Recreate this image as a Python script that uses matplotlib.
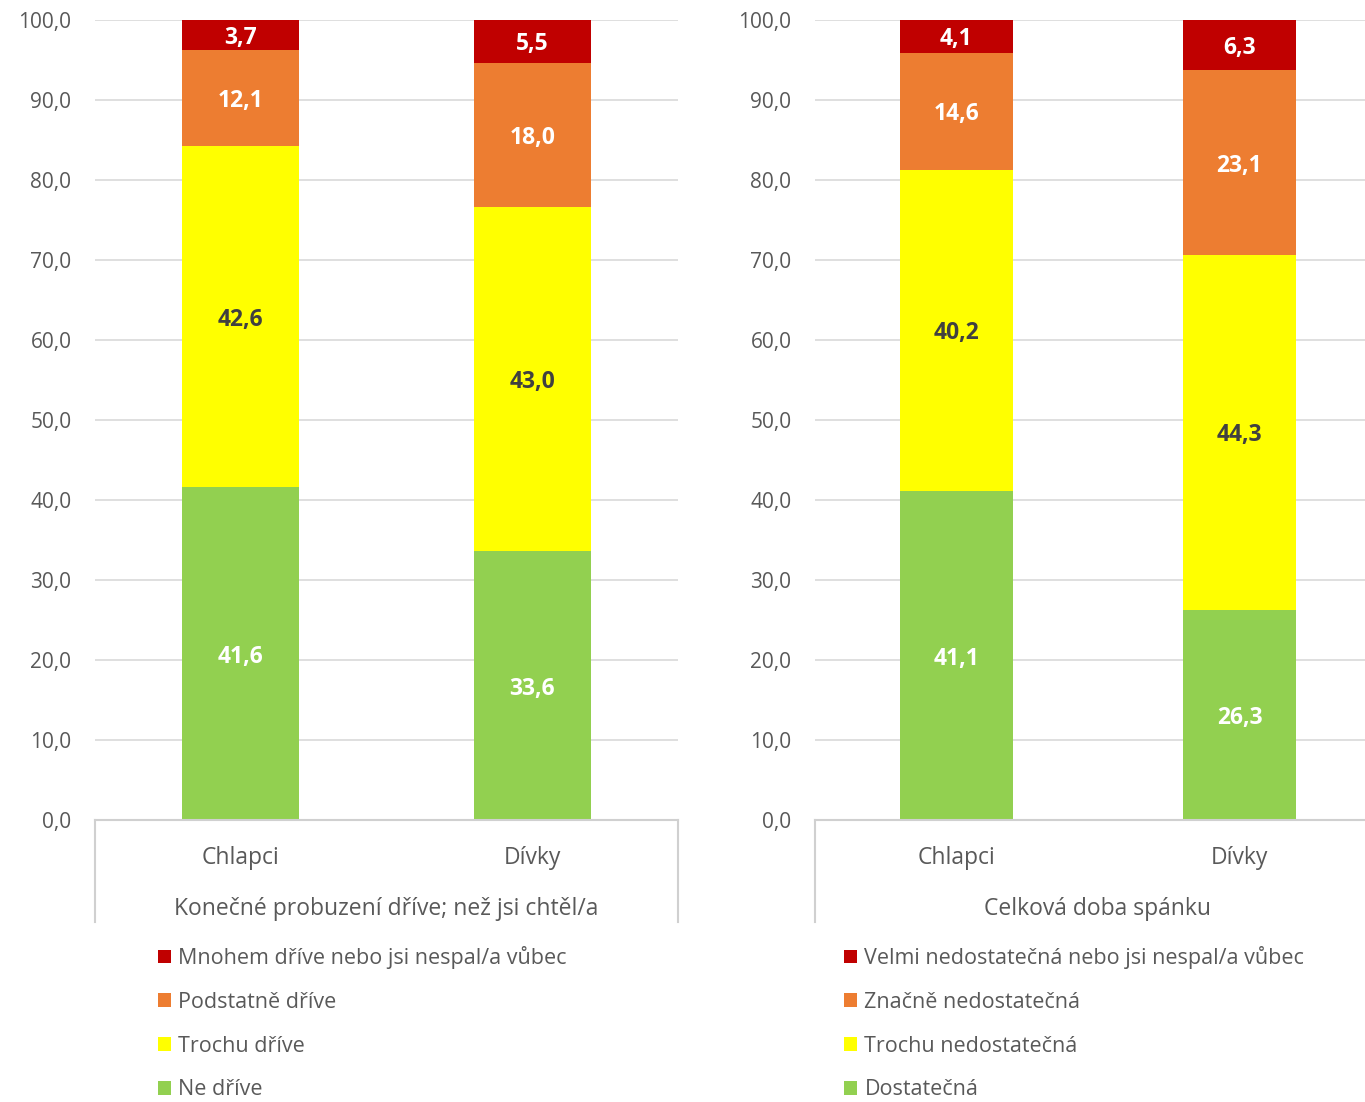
import matplotlib
matplotlib.use("Agg")
import matplotlib.pyplot as plt

plt.rcParams['font.family'] = ['Open Sans', 'DejaVu Sans']

# data
groups = ["Chlapci", "Dívky"]

titles = ["Konečné probuzení dříve; než jsi chtěl/a", "Celková doba spánku"]

labels_left = ["Ne dříve", "Trochu dříve", "Podstatně dříve",
               "Mnohem dříve nebo jsi nespal/a vůbec"]
values_left = [[41.6, 33.6], [42.6, 43.0], [12.1, 18.0], [3.7, 5.5]]

labels_right = ["Dostatečná", "Trochu nedostatečná", "Značně nedostatečná",
                "Velmi nedostatečná nebo jsi nespal/a vůbec"]
values_right = [[41.1, 26.3], [40.2, 44.3], [14.6, 23.1], [4.1, 6.3]]

colors = ["#92D050", "#FFFF00", "#ED7D31", "#C00000"]
text_colors = ["white", "#404040", "white", "white"]
gray = "#595959"

fig = plt.figure(figsize=(13.65, 11.02), dpi=100)
W, H = 1365, 1102

def draw(rect, values, labels, title, legend_xy):
    ax = fig.add_axes(rect)
    x = range(len(groups))
    bottom = [0] * len(groups)
    handles = []
    for vals, c, tc in zip(values, colors, text_colors):
        bars = ax.bar(x, vals, 0.4, bottom=bottom, color=c, zorder=3)
        handles.append(bars)
        for i, v in enumerate(vals):
            ax.text(i, bottom[i] + v / 2, f"{v:.1f}".replace(".", ","),
                    ha="center", va="center_baseline", color=tc, fontsize=16.5,
                    fontweight="bold", zorder=4)
        bottom = [b + v for b, v in zip(bottom, vals)]
    ax.set_xlim(-0.5, 1.5)
    ax.set_ylim(0, 100)
    ax.set_yticks(range(0, 101, 10))
    ax.set_yticklabels([f"{t:.1f}".replace(".", ",") for t in range(0, 101, 10)])
    ax.tick_params(axis="y", length=0, pad=17, labelsize=15, labelcolor=gray)
    ax.set_xticks([])
    ax.grid(axis="y", color="#D9D9D9", linewidth=1.2, zorder=0)
    for s in ["top", "right", "left"]:
        ax.spines[s].set_visible(False)
    ax.spines["bottom"].set_color("#D0D0D0")
    ax.spines["bottom"].set_linewidth(1.5)
    ax.spines["bottom"].set_zorder(5)
    # category box lines below the axis
    for xe in (0, 1):
        ax.plot([xe, xe], [0, -0.1275], transform=ax.transAxes, color="#D0D0D0",
                linewidth=1.5, clip_on=False)
    for i, g in enumerate(groups):
        ax.text(i, -0.0435, g, transform=ax.get_xaxis_transform(), ha="center",
                va="center_baseline", fontsize=16.5, color=gray)
    ax.text(0.5, -0.107, title, transform=ax.transAxes, ha="center",
            va="center_baseline", fontsize=16.5, color=gray)
    ax.legend(handles[::-1], labels[::-1], loc="upper left",
              bbox_to_anchor=legend_xy, bbox_transform=fig.transFigure,
              frameon=False, fontsize=15.5, labelcolor=gray,
              handlelength=0.6, handleheight=0.6, handletextpad=0.35,
              labelspacing=1.06, borderaxespad=0, borderpad=0)
    return ax

draw([95 / W, 1 - 820 / H, 583 / W, 800 / H], values_left, labels_left,
     titles[0], (158 / W, 1 - 946 / H))
draw([815 / W, 1 - 820 / H, 566 / W, 800 / H], values_right, labels_right,
     titles[1], (844 / W, 1 - 946 / H))

fig.savefig("out.png", dpi=100)
